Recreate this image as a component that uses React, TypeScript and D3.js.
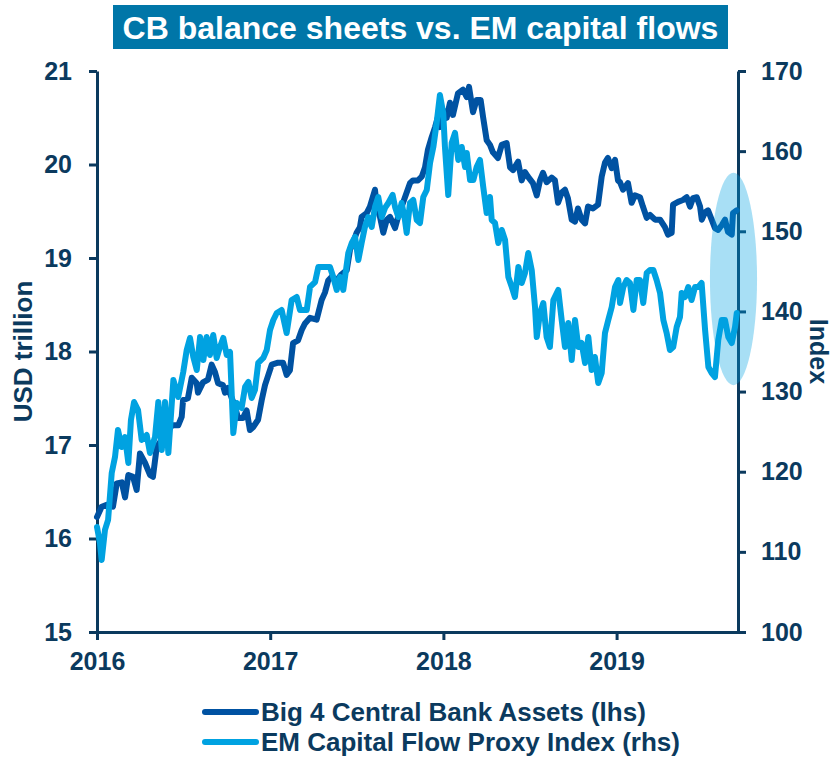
import React, { useEffect, useRef } from "react";
import * as d3 from "d3";

const W = 832;
const H = 757;
const titleText = "CB balance sheets vs. EM capital flows";
const yearTicks = [2016, 2017, 2018, 2019];
const leftTicks = [15, 16, 17, 18, 19, 20, 21];
const rightTicks = [100, 110, 120, 130, 140, 150, 160, 170];
const seriesNames = ["Big 4 Central Bank Assets (lhs)", "EM Capital Flow Proxy Index (rhs)"];
const leftTitle = "USD trillion";
const rightTitle = "Index";
const xDomain = [2016, 2019.701];
const highlightT = [2019.539, 2019.811];
const highlightR = [130.8, 157.3];

// Big 4 Central Bank Assets (USD trillion), time in decimal years
const cbT = [
  2016.0, 2016.027, 2016.056, 2016.092, 2016.114, 2016.143, 2016.162, 2016.181, 2016.208, 2016.229,
  2016.248, 2016.277, 2016.306, 2016.323, 2016.345, 2016.393, 2016.433, 2016.469, 2016.489, 2016.497,
  2016.525, 2016.547, 2016.576, 2016.583, 2016.612, 2016.641, 2016.662, 2016.681, 2016.699, 2016.727,
  2016.739, 2016.756, 2016.797, 2016.814, 2016.843, 2016.864, 2016.883, 2016.901, 2016.93, 2016.951,
  2016.97, 2017.009, 2017.045, 2017.074, 2017.095, 2017.114, 2017.132, 2017.161, 2017.182, 2017.201,
  2017.23, 2017.268, 2017.297, 2017.316, 2017.335, 2017.355, 2017.384, 2017.409, 2017.442, 2017.461,
  2017.478, 2017.499, 2017.518, 2017.528, 2017.557, 2017.576, 2017.605, 2017.615, 2017.634, 2017.653,
  2017.673, 2017.692, 2017.721, 2017.749, 2017.767, 2017.788, 2017.807, 2017.824, 2017.853, 2017.875,
  2017.894, 2017.911, 2017.932, 2017.952, 2017.969, 2017.98, 2017.998, 2018.019, 2018.038, 2018.055,
  2018.084, 2018.113, 2018.135, 2018.148, 2018.171, 2018.192, 2018.215, 2018.229, 2018.25, 2018.269,
  2018.286, 2018.315, 2018.337, 2018.365, 2018.385, 2018.402, 2018.431, 2018.452, 2018.471, 2018.488,
  2018.517, 2018.539, 2018.558, 2018.575, 2018.596, 2018.625, 2018.644, 2018.662, 2018.683, 2018.702,
  2018.719, 2018.741, 2018.76, 2018.777, 2018.798, 2018.818, 2018.835, 2018.864, 2018.893, 2018.914,
  2018.933, 2018.95, 2018.972, 2018.991, 2019.008, 2019.02, 2019.037, 2019.066, 2019.087, 2019.106,
  2019.135, 2019.152, 2019.174, 2019.193, 2019.222, 2019.251, 2019.279, 2019.297, 2019.318, 2019.326,
  2019.355, 2019.383, 2019.405, 2019.424, 2019.441, 2019.463, 2019.482, 2019.492, 2019.511, 2019.528,
  2019.549, 2019.568, 2019.586, 2019.607, 2019.626, 2019.643, 2019.665, 2019.672, 2019.693,
];
const cbV = [
  16.23, 16.34, 16.36, 16.34, 16.59, 16.6, 16.44, 16.68, 16.66, 16.52,
  16.91, 16.81, 16.68, 16.66, 16.98, 17.11, 17.21, 17.21, 17.3, 17.48,
  17.5, 17.72, 17.66, 17.56, 17.67, 17.7, 17.86, 17.78, 17.66, 17.64,
  17.56, 17.61, 17.41, 17.29, 17.29, 17.37, 17.16, 17.19, 17.27, 17.48,
  17.64, 17.86, 17.88, 17.88, 17.75, 17.8, 18.09, 18.12, 18.23, 18.3,
  18.36, 18.34, 18.55, 18.63, 18.76, 18.8, 18.76, 18.82, 18.87, 19.09,
  19.16, 19.27, 19.33, 19.44, 19.48, 19.55, 19.73, 19.55, 19.44, 19.27,
  19.41, 19.44, 19.32, 19.51, 19.59, 19.7, 19.8, 19.83, 19.83, 19.87,
  19.97, 20.16, 20.29, 20.4, 20.51, 20.4, 20.58, 20.5, 20.66, 20.53,
  20.76, 20.8, 20.72, 20.83, 20.56, 20.69, 20.69, 20.51, 20.26, 20.21,
  20.13, 20.07, 20.21, 20.23, 19.97, 19.94, 20.03, 19.83, 19.92, 19.87,
  19.8, 19.67, 19.83, 19.91, 19.81, 19.86, 19.83, 19.59, 19.7, 19.73,
  19.64, 19.41, 19.39, 19.53, 19.41, 19.37, 19.55, 19.53, 19.57, 19.87,
  20.02, 20.07, 19.96, 20.05, 19.83, 19.81, 19.73, 19.8, 19.59, 19.67,
  19.65, 19.55, 19.43, 19.46, 19.41, 19.41, 19.33, 19.25, 19.27, 19.57,
  19.6, 19.62, 19.65, 19.55, 19.64, 19.65, 19.55, 19.41, 19.49, 19.51,
  19.41, 19.32, 19.3, 19.35, 19.41, 19.28, 19.25, 19.48, 19.51,
];

// EM Capital Flow Proxy Index, time in decimal years
const emT = [
  2016.0, 2016.017, 2016.027, 2016.046, 2016.064, 2016.085, 2016.104, 2016.121, 2016.143, 2016.162,
  2016.181, 2016.196, 2016.214, 2016.237, 2016.258, 2016.287, 2016.306, 2016.335, 2016.354, 2016.374,
  2016.393, 2016.412, 2016.441, 2016.469, 2016.498, 2016.518, 2016.537, 2016.556, 2016.576, 2016.595,
  2016.614, 2016.633, 2016.652, 2016.671, 2016.691, 2016.71, 2016.729, 2016.749, 2016.768, 2016.787,
  2016.807, 2016.835, 2016.855, 2016.874, 2016.893, 2016.912, 2016.931, 2016.96, 2016.98, 2016.999,
  2017.018, 2017.038, 2017.066, 2017.095, 2017.124, 2017.153, 2017.172, 2017.211, 2017.23, 2017.259,
  2017.278, 2017.307, 2017.345, 2017.364, 2017.384, 2017.403, 2017.422, 2017.451, 2017.471, 2017.49,
  2017.509, 2017.528, 2017.547, 2017.566, 2017.586, 2017.605, 2017.624, 2017.644, 2017.663, 2017.682,
  2017.707, 2017.721, 2017.74, 2017.759, 2017.778, 2017.788, 2017.807, 2017.826, 2017.846, 2017.865,
  2017.884, 2017.904, 2017.923, 2017.942, 2017.961, 2017.98, 2017.999, 2018.009, 2018.028, 2018.048,
  2018.067, 2018.086, 2018.106, 2018.125, 2018.135, 2018.154, 2018.173, 2018.192, 2018.211, 2018.23,
  2018.25, 2018.269, 2018.279, 2018.298, 2018.317, 2018.337, 2018.356, 2018.375, 2018.395, 2018.413,
  2018.433, 2018.452, 2018.471, 2018.49, 2018.51, 2018.529, 2018.539, 2018.558, 2018.577, 2018.596,
  2018.615, 2018.635, 2018.663, 2018.683, 2018.702, 2018.721, 2018.741, 2018.76, 2018.779, 2018.798,
  2018.818, 2018.837, 2018.856, 2018.875, 2018.894, 2018.914, 2018.933, 2018.952, 2018.972, 2018.991,
  2019.01, 2019.02, 2019.039, 2019.058, 2019.077, 2019.097, 2019.116, 2019.135, 2019.154, 2019.174,
  2019.193, 2019.212, 2019.231, 2019.251, 2019.27, 2019.289, 2019.308, 2019.327, 2019.347, 2019.366,
  2019.376, 2019.395, 2019.414, 2019.433, 2019.453, 2019.472, 2019.491, 2019.511, 2019.53, 2019.549,
  2019.568, 2019.587, 2019.607, 2019.626, 2019.645, 2019.665, 2019.684, 2019.694,
];
const emV = [
  113.1, 111.11, 108.98, 112.73, 113.98, 119.84, 121.84, 125.21, 123.08, 124.33,
  121.09, 126.45, 128.7, 127.7, 123.96, 124.58, 122.34, 124.33, 128.7, 122.71,
  128.7, 122.34, 131.45, 129.32, 132.44, 135.19, 136.69, 134.31, 132.69, 136.81,
  133.94, 136.81, 134.56, 137.06, 134.19, 135.56, 136.69, 134.56, 134.94, 124.83,
  128.57, 127.95, 130.57, 131.2, 129.2, 130.2, 133.57, 134.19, 135.19, 137.68,
  138.93, 139.81, 140.18, 137.31, 141.43, 141.8, 140.18, 140.18, 143.05, 143.67,
  145.55, 145.55, 145.55, 144.3, 142.68, 144.3, 142.68, 147.29, 148.54, 149.29,
  146.42, 148.54, 150.54, 151.78, 150.54, 153.03, 154.28, 151.78, 152.91, 153.53,
  154.53, 153.03, 151.78, 153.53, 151.41, 149.79, 153.53, 153.91, 151.41, 151.04,
  154.28, 155.15, 158.52, 160.52, 163.51, 167.01, 164.76, 160.52, 154.53, 161.02,
  162.27, 158.9, 160.52, 158.02, 159.77, 156.4, 156.4, 158.02, 158.9, 155.53,
  152.28, 154.28, 151.41, 151.04, 148.54, 150.16, 148.91, 144.3, 143.05, 141.8,
  145.55, 143.55, 144.8, 147.29, 145.17, 140.55, 136.81, 139.81, 141.05, 136.81,
  135.56, 141.43, 142.68, 138.93, 135.56, 138.56, 133.94, 138.93, 135.56, 136.06,
  133.57, 136.81, 132.69, 134.31, 131.07, 132.32, 137.31, 138.93, 140.55, 143.05,
  143.92, 141.05, 143.05, 143.92, 143.55, 140.18, 143.92, 143.92, 141.05, 144.8,
  145.17, 145.17, 143.92, 142.3, 138.93, 137.31, 135.19, 135.56, 138.06, 139.31,
  142.3, 141.8, 143.05, 141.43, 143.05, 143.05, 143.55, 137.68, 133.07, 132.32,
  131.82, 136.44, 138.93, 138.93, 136.81, 136.06, 138.06, 139.81,
];

const NAVY = "#0B3A5E";
const DARK = "#0052A2";
const LIGHT = "#00A2E1";
const FONT = "'Liberation Sans', Arial, Helvetica, sans-serif";

export default function App() {
  const ref = useRef<SVGSVGElement | null>(null);

  useEffect(() => {
    const svg = d3.select(ref.current);
    svg.selectAll("*").remove();

    const left = 97, right = 738, top = 71, bottom = 632;
    const x = d3.scaleLinear().domain(xDomain).range([left, right]);
    const yL = d3.scaleLinear().domain([15, 21]).range([bottom, top]);
    const yR = d3.scaleLinear().domain([100, 170]).range([bottom, top]);

    svg.append("rect").attr("width", W).attr("height", H).attr("fill", "#fff");

    // Title
    svg.append("rect").attr("x", 113).attr("y", 5).attr("width", 615).attr("height", 44).attr("fill", "#0076A8");
    svg.append("text").attr("x", 420.5).attr("y", 39).attr("text-anchor", "middle")
      .attr("font-family", FONT).attr("font-weight", "bold").attr("font-size", 32).attr("fill", "#fff")
      .text(titleText);

    const styleAxis = (g: any) => {
      g.select(".domain").attr("stroke", NAVY).attr("stroke-width", 3);
      g.selectAll(".tick line").attr("stroke", NAVY).attr("stroke-width", 3);
      g.selectAll(".tick text").attr("fill", NAVY).attr("font-family", FONT)
        .attr("font-weight", "bold").attr("font-size", 25);
    };

    svg.append("g").attr("transform", `translate(0,${bottom})`)
      .call(d3.axisBottom(x).tickValues(yearTicks).tickFormat(d3.format("d") as any)
        .tickSize(8).tickSizeOuter(0).tickPadding(12))
      .call(styleAxis);

    svg.append("g").attr("transform", `translate(${left},0)`)
      .call(d3.axisLeft(yL).tickValues(leftTicks).tickFormat(d3.format("d") as any)
        .tickSize(8).tickSizeOuter(0).tickPadding(17))
      .call(styleAxis);

    svg.append("g").attr("transform", `translate(${right},0)`)
      .call(d3.axisRight(yR).tickValues(rightTicks).tickFormat(d3.format("d") as any)
        .tickSize(8).tickSizeOuter(0).tickPadding(15))
      .call(styleAxis);

    svg.append("text").attr("transform", `translate(32,${(top + bottom) / 2}) rotate(-90)`)
      .attr("text-anchor", "middle").attr("font-family", FONT).attr("font-weight", "bold")
      .attr("font-size", 26).attr("fill", NAVY).text(leftTitle);

    svg.append("text").attr("transform", `translate(810,${(top + bottom) / 2}) rotate(90)`)
      .attr("text-anchor", "middle").attr("font-family", FONT).attr("font-weight", "bold")
      .attr("font-size", 25).attr("fill", NAVY).text(rightTitle);

    const cbLine = d3.line<number>().x((_, i) => x(cbT[i])).y((d) => yL(d));
    const emLine = d3.line<number>().x((_, i) => x(emT[i])).y((d) => yR(d));

    svg.append("path").attr("d", cbLine(cbV) as string).attr("fill", "none").attr("stroke", DARK)
      .attr("stroke-width", 6).attr("stroke-linejoin", "round").attr("stroke-linecap", "round");
    svg.append("path").attr("d", emLine(emV) as string).attr("fill", "none").attr("stroke", LIGHT)
      .attr("stroke-width", 6).attr("stroke-linejoin", "round").attr("stroke-linecap", "round");

    // Highlight ellipse
    const ex0 = x(highlightT[0]), ex1 = x(highlightT[1]);
    const ey0 = yR(highlightR[1]), ey1 = yR(highlightR[0]);
    svg.append("ellipse").attr("cx", (ex0 + ex1) / 2).attr("cy", (ey0 + ey1) / 2)
      .attr("rx", (ex1 - ex0) / 2).attr("ry", (ey1 - ey0) / 2)
      .attr("fill", "#00A0E1").attr("fill-opacity", 0.34);

    // Legend
    const colors = [DARK, LIGHT];
    seriesNames.forEach((name, i) => {
      const ly = 712 + i * 30;
      svg.append("line").attr("x1", 205).attr("x2", 256).attr("y1", ly).attr("y2", ly)
        .attr("stroke", colors[i]).attr("stroke-width", 6).attr("stroke-linecap", "round");
      svg.append("text").attr("x", 261).attr("y", ly + 9).attr("font-family", FONT)
        .attr("font-weight", "bold").attr("font-size", 26).attr("fill", NAVY).text(name);
    });
  }, []);

  return (
    <svg ref={ref} width={W} height={H}
      style={{ position: "absolute", left: 0, top: 0, display: "block" }} />
  );
}
